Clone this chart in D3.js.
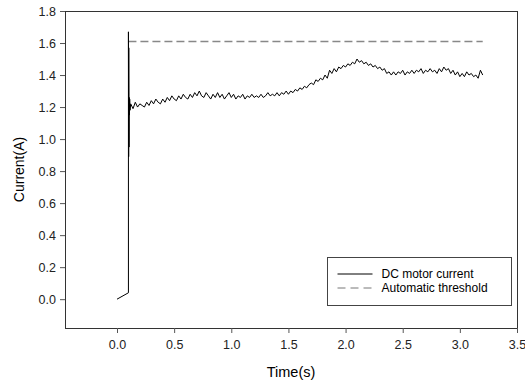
<!DOCTYPE html>
<html>
<head>
<meta charset="utf-8">
<script src="https://cdn.jsdelivr.net/npm/d3@7"></script>
<style>
  body { margin: 0; background: #fff; }
  text { font-family: "Liberation Sans", Arial, sans-serif; }
</style>
</head>
<body>
<div id="chart"></div>
<script>
// Start-up transient (time s, current A)
var startTimes  = [0, 0.10, 0.10, 0.102, 0.103, 0.105, 0.107, 0.109, 0.111, 0.114, 0.12];
var startValues = [0, 0.04, 1.67, 0.89, 1.57, 0.95, 1.26, 1.15, 1.25, 1.18, 1.22];

// Steady part, sampled every 0.02 s from 0.12 s
var steadyStart = 0.12, steadyStep = 0.02;
var steadyValues = [
  1.22, 1.19, 1.23, 1.20, 1.22, 1.21, 1.20, 1.23, 1.21, 1.24,
  1.22, 1.25, 1.23, 1.22, 1.25, 1.23, 1.26, 1.24, 1.27, 1.25,
  1.24, 1.27, 1.25, 1.28, 1.26, 1.25, 1.28, 1.26, 1.29, 1.27,
  1.30, 1.27, 1.26, 1.29, 1.27, 1.25, 1.28, 1.26, 1.29, 1.26,
  1.28, 1.25, 1.27, 1.29, 1.26, 1.28, 1.25, 1.27, 1.26, 1.28,
  1.25, 1.27, 1.26, 1.28, 1.26, 1.27, 1.26, 1.28, 1.26, 1.27,
  1.29, 1.27, 1.28, 1.27, 1.29, 1.27, 1.29, 1.28, 1.30, 1.28,
  1.30, 1.29, 1.31, 1.30, 1.32, 1.31, 1.33, 1.32, 1.34, 1.35,
  1.34, 1.37, 1.36, 1.38, 1.37, 1.40, 1.38, 1.43, 1.41, 1.44,
  1.42, 1.45, 1.44, 1.46, 1.45, 1.47, 1.46, 1.48, 1.47, 1.50,
  1.48, 1.49, 1.47, 1.48, 1.46, 1.47, 1.45, 1.46, 1.44, 1.45,
  1.43, 1.44, 1.41, 1.42, 1.40, 1.42, 1.40, 1.42, 1.41, 1.43,
  1.40, 1.42, 1.41, 1.43, 1.41, 1.43, 1.42, 1.44, 1.41, 1.43,
  1.42, 1.44, 1.42, 1.43, 1.41, 1.44, 1.42, 1.45, 1.43, 1.44,
  1.41, 1.43, 1.40, 1.42, 1.39, 1.41, 1.39, 1.42, 1.40, 1.41,
  1.39, 1.40, 1.38, 1.43, 1.40
];

var thresholdTimes = [0.10, 3.20];
var thresholdValue = 1.61;

var xTicks = [0.0, 0.5, 1.0, 1.5, 2.0, 2.5, 3.0, 3.5];
var yTicks = [0.0, 0.2, 0.4, 0.6, 0.8, 1.0, 1.2, 1.4, 1.6, 1.8];
var legendLabels = ["DC motor current", "Automatic threshold"];

var W = 525, H = 383;
var margin = { top: 11, right: 8, bottom: 55, left: 65 },
    width = W - margin.left - margin.right,
    height = H - margin.top - margin.bottom;

var svg = d3.select("#chart").append("svg")
  .attr("width", W).attr("height", H);
var g = svg.append("g")
  .attr("transform", "translate(" + margin.left + "," + margin.top + ")");

var x = d3.scaleLinear().domain([-0.455, 3.5]).range([0, width]);
var y = d3.scaleLinear().domain([-0.18, 1.8]).range([height, 0]);

var current = [];
startTimes.forEach(function(t, i) { current.push([t, startValues[i]]); });
steadyValues.forEach(function(v, i) {
  if (i > 0) current.push([steadyStart + i * steadyStep, v]);
});

var line = d3.line()
  .x(function(d) { return x(d[0]); })
  .y(function(d) { return y(d[1]); });

// frame
g.append("rect")
  .attr("x", 0.5).attr("y", 0.5)
  .attr("width", width).attr("height", height)
  .attr("fill", "none").attr("stroke", "#333").attr("stroke-width", 1);

var xAxis = d3.axisBottom(x).tickValues(xTicks).tickFormat(d3.format(".1f")).tickSize(5).tickSizeOuter(0);
var yAxis = d3.axisLeft(y).tickValues(yTicks).tickFormat(d3.format(".1f")).tickSize(5).tickSizeOuter(0);

var gx = g.append("g").attr("transform", "translate(0," + height + ")").call(xAxis);
var gy = g.append("g").call(yAxis);
[gx, gy].forEach(function(a) {
  a.select(".domain").attr("stroke", "#333");
  a.selectAll(".tick line").attr("stroke", "#555");
  a.selectAll(".tick text").attr("fill", "#222").style("font-size", "12.5px")
    .style("font-family", "'Liberation Sans', Arial, sans-serif");
});
gx.selectAll(".tick text").attr("y", 12);
gy.selectAll(".tick text").attr("x", -9);

// threshold
g.append("path")
  .datum(thresholdTimes.map(function(t) { return [t, thresholdValue]; }))
  .attr("d", line)
  .attr("fill", "none").attr("stroke", "#888").attr("stroke-width", 1.5)
  .attr("stroke-dasharray", "8,4");

// current
g.append("path")
  .datum(current)
  .attr("d", line)
  .attr("fill", "none").attr("stroke", "#000").attr("stroke-width", 1);

// axis titles
svg.append("text")
  .attr("transform", "translate(24," + (margin.top + height / 2) + ") rotate(-90)")
  .attr("text-anchor", "middle")
  .style("font-size", "14px")
  .text("Current(A)");

svg.append("text")
  .attr("x", margin.left + width / 2)
  .attr("y", 377)
  .attr("text-anchor", "middle")
  .style("font-size", "14.5px")
  .text("Time(s)");

// legend
var lg = svg.append("g").attr("transform", "translate(327.5,257.5)");
lg.append("rect").attr("width", 184).attr("height", 48)
  .attr("fill", "#fff").attr("stroke", "#444");
legendLabels.forEach(function(lab, i) {
  var ly = 16.5 + i * 14;
  lg.append("line").attr("x1", 10).attr("x2", 45).attr("y1", ly).attr("y2", ly)
    .attr("stroke", i === 0 ? "#000" : "#777")
    .attr("stroke-width", 1)
    .attr("stroke-dasharray", i === 0 ? null : "8,5");
  lg.append("text").attr("x", 54).attr("y", ly + 4)
    .style("font-size", "12px").text(lab);
});
</script>
</body>
</html>
